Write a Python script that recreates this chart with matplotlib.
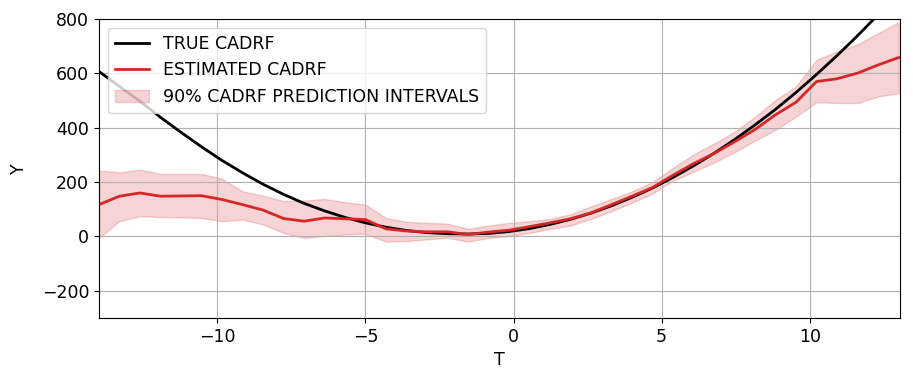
import numpy as np
import matplotlib
matplotlib.use("Agg")
import matplotlib.pyplot as plt

# grid of T values (40 points from -14 to 13)
t_grid = [-14.0, -13.31, -12.62, -11.92, -11.23, -10.54, -9.85, -9.15, -8.46, -7.77,
          -7.08, -6.38, -5.69, -5.0, -4.31, -3.62, -2.92, -2.23, -1.54, -0.85,
          -0.15, 0.54, 1.23, 1.92, 2.62, 3.31, 4.0, 4.69, 5.38, 6.08,
          6.77, 7.46, 8.15, 8.85, 9.54, 10.23, 10.92, 11.62, 12.31, 13.0]

true_cadrf = [607, 552, 498, 438, 383, 330, 280, 234, 192, 155,
              122, 94, 70, 50, 34, 22, 14, 10, 9, 11,
              18, 29, 44, 63, 86, 113, 144, 178, 217, 260,
              306, 356, 410, 468, 530, 596, 665, 739, 816, 897]

est_cadrf = [117, 148, 160, 148, 149, 150, 136, 117, 97, 66,
             56, 68, 65, 62, 28, 20, 17, 17, 7, 16,
             23, 36, 50, 65, 87, 117, 148, 180, 225, 268,
             305, 348, 393, 448, 494, 570, 580, 601, 631, 658]

pi_upper = [242, 236, 246, 230, 230, 230, 212, 166, 150, 130,
            132, 138, 126, 117, 68, 54, 50, 47, 28, 40,
            50, 56, 65, 81, 111, 138, 166, 200, 252, 302,
            342, 385, 440, 503, 552, 650, 680, 707, 748, 788]

pi_lower = [-5, 56, 75, 71, 70, 68, 56, 62, 44, 13,
            -5, 1, 7, 10, -19, -17, -11, -5, -19, -5,
            1, 13, 28, 40, 65, 93, 124, 158, 205, 238,
            272, 310, 352, 393, 441, 494, 491, 491, 515, 527]

fig, ax = plt.subplots(figsize=(9.13, 3.86), dpi=100)
fig.subplots_adjust(left=0.1084, right=0.9858, top=0.9508, bottom=0.1762)

ax.plot(t_grid, true_cadrf, color="black", lw=2, label="TRUE CADRF")
ax.plot(t_grid, est_cadrf, color="tab:red", lw=2, label="ESTIMATED CADRF")
ax.fill_between(t_grid, pi_lower, pi_upper, color="tab:red", alpha=0.2,
                label="90% CADRF PREDICTION INTERVALS")

ax.set_xlim(-14, 13.05)
ax.set_ylim(-300, 800)
ax.set_xticks([-10, -5, 0, 5, 10])
ax.set_yticks([-200, 0, 200, 400, 600, 800])
ax.tick_params(labelsize=12.5)
ax.set_xlabel("T", fontsize=12.5)
ax.set_ylabel("Y", fontsize=12.5, labelpad=10)
ax.grid(True)
ax.legend(loc="upper left", fontsize=12.5)

fig.savefig("out.png", dpi=100)
